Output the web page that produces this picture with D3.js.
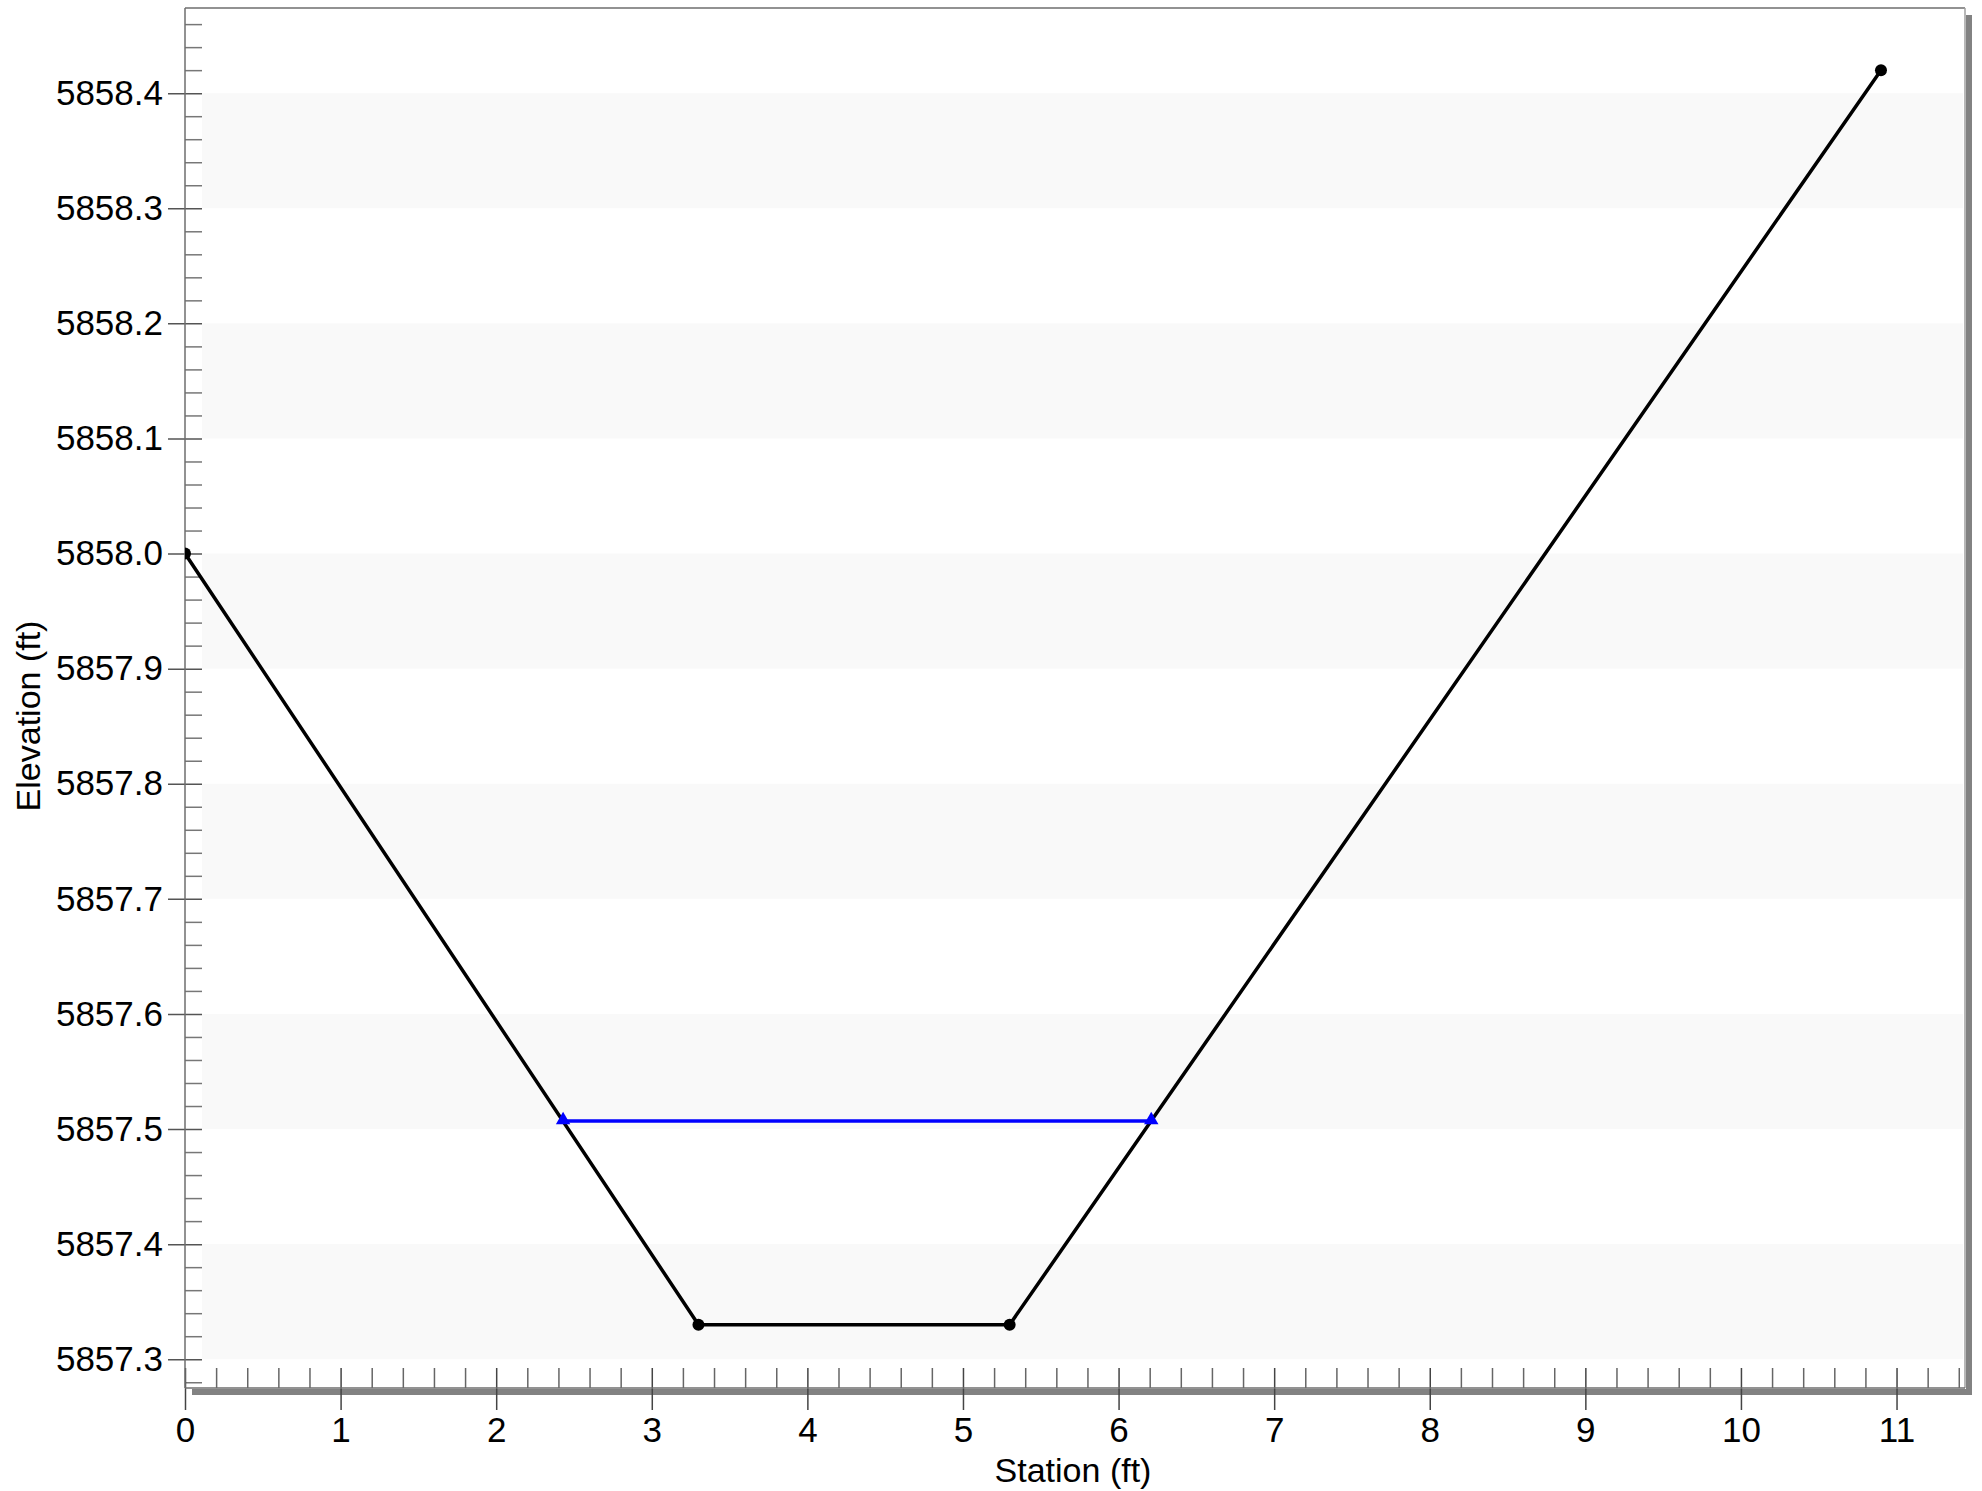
<!DOCTYPE html>
<html>
<head>
<meta charset="utf-8">
<script src="https://cdn.jsdelivr.net/npm/d3@7"></script>
<style>
  body { margin: 0; background: #fff; }
  svg { display: block; font-family: 'Liberation Sans', Arial, sans-serif; }
</style>
</head>
<body>
<svg id="chart"></svg>
<script>
// ground profile
const station = [0, 3.3, 5.3, 10.9]
const elevation = [5858.0, 5857.33, 5857.33, 5858.42]

// water surface
const waterStation = [2.43, 6.21]
const waterElevation = [5857.507, 5857.507]

// ticks
const xTickValues = [0, 1, 2, 3, 4, 5, 6, 7, 8, 9, 10, 11]
const yTickValues = [5857.3, 5857.4, 5857.5, 5857.6, 5857.7, 5857.8, 5857.9, 5858.0, 5858.1, 5858.2, 5858.3, 5858.4]

const W = 1982
const H = 1491
const margin = { top: 8, left: 185, right: 17, bottom: 103 }
const x0 = margin.left
const x1 = W - margin.right
const y0 = margin.top
const y1 = H - margin.bottom

const svg = d3.select('#chart').attr('width', W).attr('height', H)

/// scales ////////////////////////////////
const xScale = d3.scaleLinear().domain([0, 11.44]).range([x0, x1])
const yScale = d3.scaleLinear().domain([5857.275, 5858.474]).range([y1, y0])

svg.append('defs').append('clipPath').attr('id', 'plot-clip')
  .append('rect')
  .attr('x', x0).attr('y', y0)
  .attr('width', x1 - x0).attr('height', y1 - y0)

// shadow of the frame
svg.append('rect')
  .attr('x', x1 + 1).attr('y', y0 + 7)
  .attr('width', 6).attr('height', y1 - y0)
  .attr('fill', '#828282')
svg.append('rect')
  .attr('x', x0 + 7).attr('y', y1 + 1)
  .attr('width', x1 - x0).attr('height', 6)
  .attr('fill', '#828282')

// background bands
const bands = d3.range(0, yTickValues.length - 1, 2).map(i => [yTickValues[yTickValues.length - 1 - i], yTickValues[yTickValues.length - 2 - i]])
svg.append('g')
  .selectAll('rect')
  .data(bands)
  .join('rect')
  .attr('x', x0 + 17)
  .attr('width', x1 - x0 - 19)
  .attr('y', d => yScale(d[0]))
  .attr('height', d => yScale(d[1]) - yScale(d[0]))
  .attr('fill', '#f9f9f9')

// frame
svg.append('line').attr('x1', x0).attr('x2', x1).attr('y1', y0).attr('y2', y0)
  .attr('stroke', '#6e6e6e').attr('stroke-width', 1.5)
svg.append('line').attr('x1', x1).attr('x2', x1).attr('y1', y0).attr('y2', y1)
  .attr('stroke', '#a0a0a0').attr('stroke-width', 1.5)

/// axes ////////////////////////////////
const yMinor = d3.range(5857.28, 5858.47, 0.02).filter(v => Math.abs(Math.round(v * 10) - v * 10) > 0.01)
const yAxisMinor = svg.append('g').attr('transform', `translate(${x0},0)`)
  .call(d3.axisRight(yScale).tickValues(yMinor).tickSize(17).tickFormat(''))
yAxisMinor.select('.domain').remove()
yAxisMinor.selectAll('line').attr('stroke', '#777').attr('stroke-width', 1.5)

const yAxis = svg.append('g').attr('transform', `translate(${x0},0)`)
  .call(d3.axisLeft(yScale).tickValues(yTickValues).tickSizeInner(0).tickSizeOuter(0).tickPadding(22).tickFormat(d3.format('.1f')))
yAxis.select('.domain').remove()
yAxis.selectAll('.tick line').remove()
yAxis.selectAll('.tick')
  .append('line')
  .attr('x1', -17).attr('x2', 17)
  .attr('stroke', '#555').attr('stroke-width', 1.5)
yAxis.selectAll('text')
  .attr('font-size', 35).attr('fill', '#000')
  .attr('font-family', "'Liberation Sans', Arial, sans-serif")

const xMinor = d3.range(0.2, 11.41, 0.2).filter(v => Math.abs(Math.round(v) - v) > 0.01)
const xAxisMinor = svg.append('g').attr('transform', `translate(0,${y1})`)
  .call(d3.axisTop(xScale).tickValues(xMinor).tickSize(20).tickFormat(''))
xAxisMinor.select('.domain').remove()
xAxisMinor.selectAll('line').attr('stroke', '#666').attr('stroke-width', 1.5)

const xAxis = svg.append('g').attr('transform', `translate(0,${y1})`)
  .call(d3.axisBottom(xScale).tickValues(xTickValues).tickSizeInner(0).tickSizeOuter(0).tickPadding(0).tickFormat(d3.format('d')))
xAxis.select('.domain').remove()
xAxis.selectAll('.tick line').remove()
xAxis.selectAll('.tick')
  .append('line')
  .attr('y1', -20).attr('y2', 22)
  .attr('stroke', '#444').attr('stroke-width', 1.5)
xAxis.selectAll('text')
  .attr('y', 54).attr('dy', null)
  .attr('font-size', 35).attr('fill', '#000')
  .attr('font-family', "'Liberation Sans', Arial, sans-serif")

// axis lines
svg.append('line').attr('x1', x0).attr('x2', x0).attr('y1', y0).attr('y2', y1)
  .attr('stroke', '#6e6e6e').attr('stroke-width', 1.5)
svg.append('line').attr('x1', x0).attr('x2', x1).attr('y1', y1).attr('y2', y1)
  .attr('stroke', '#6e6e6e').attr('stroke-width', 1.5)

/// titles ////////////////////////////////
svg.append('text')
  .text('Station (ft)')
  .attr('x', (x0 + x1) / 2 - 2)
  .attr('y', 1482)
  .attr('text-anchor', 'middle')
  .attr('font-size', 34)

svg.append('text')
  .text('Elevation (ft)')
  .attr('transform', 'translate(40,716) rotate(-90)')
  .attr('text-anchor', 'middle')
  .attr('font-size', 34)

/// data ////////////////////////////////
const plot = svg.append('g').attr('clip-path', 'url(#plot-clip)')
const ground = station.map((s, i) => ({ s, e: elevation[i] }))
const water = waterStation.map((s, i) => ({ s, e: waterElevation[i] }))

const line = d3.line().x(d => xScale(d.s)).y(d => yScale(d.e))

plot.append('path')
  .datum(water)
  .attr('d', line)
  .attr('fill', 'none')
  .attr('stroke', '#0000ff')
  .attr('stroke-width', 3.5)

plot.append('path')
  .datum(ground)
  .attr('d', line)
  .attr('fill', 'none')
  .attr('stroke', '#000')
  .attr('stroke-width', 3.5)

plot.selectAll('.pt')
  .data(ground)
  .join('circle')
  .attr('class', 'pt')
  .attr('cx', d => xScale(d.s))
  .attr('cy', d => yScale(d.e))
  .attr('r', 6)
  .attr('fill', '#000')

plot.selectAll('.tri')
  .data(water)
  .join('path')
  .attr('class', 'tri')
  .attr('d', d3.symbol().type(d3.symbolTriangle).size(90))
  .attr('transform', d => `translate(${xScale(d.s)},${yScale(d.e) - 1})`)
  .attr('fill', '#0000ff')
</script>
</body>
</html>
